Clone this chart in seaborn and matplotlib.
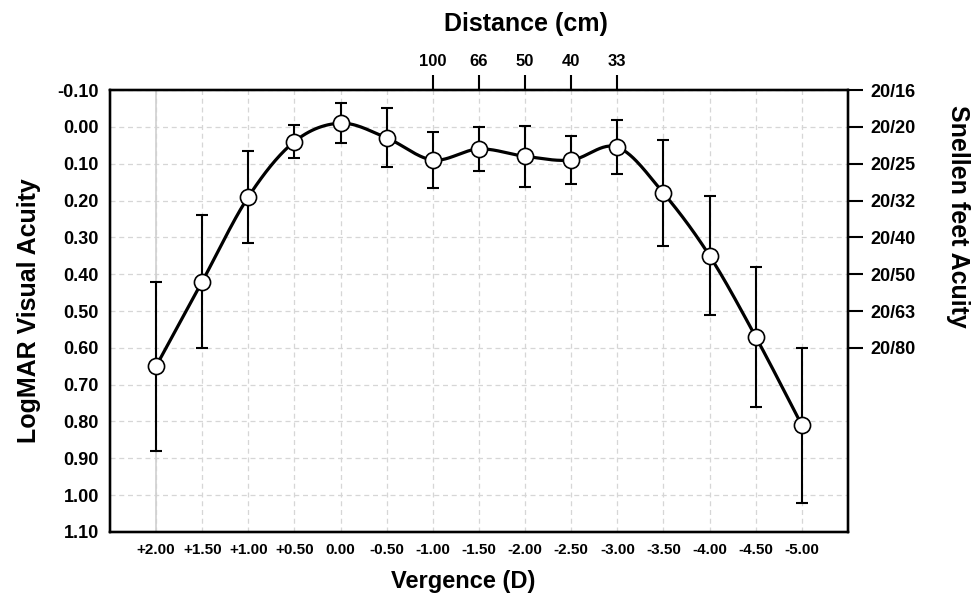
import numpy as np
import pandas as pd
import seaborn as sns
import matplotlib
matplotlib.use("Agg")
import matplotlib.pyplot as plt

# vergence (D) vs mean logMAR acuity with SD error bars
vergence = [2.0, 1.5, 1.0, 0.5, 0.0, -0.5, -1.0, -1.5, -2.0, -2.5, -3.0, -3.5, -4.0, -4.5, -5.0]
logmar = [0.65, 0.42, 0.19, 0.04, -0.01, 0.03, 0.09, 0.06, 0.08, 0.09, 0.055, 0.18, 0.35, 0.57, 0.81]
sd = [0.23, 0.18, 0.125, 0.045, 0.055, 0.08, 0.075, 0.06, 0.083, 0.064, 0.073, 0.143, 0.162, 0.19, 0.21]

# secondary axes
distance_vergence = [-1.0, -1.5, -2.0, -2.5, -3.0]
distance_cm = ["100", "66", "50", "40", "33"]
snellen_logmar = [-0.1, 0.0, 0.1, 0.2, 0.3, 0.4, 0.5, 0.6]
snellen_labels = ["20/16", "20/20", "20/25", "20/32", "20/40", "20/50", "20/63", "20/80"]
logmar_ticks = [-0.1, 0.0, 0.1, 0.2, 0.3, 0.4, 0.5, 0.6, 0.7, 0.8, 0.9, 1.0, 1.1]


def smooth(x, y, n=30):
    # catmull-rom curve through the points (like Excel's smoothed line)
    pts = np.column_stack([x, y]).astype(float)
    P = np.vstack([pts[0], pts, pts[-1]])
    t = np.linspace(0, 1, n)[:, None]
    segs = []
    for i in range(1, len(P) - 2):
        p0, p1, p2, p3 = P[i - 1], P[i], P[i + 1], P[i + 2]
        segs.append(0.5 * (2 * p1 + (-p0 + p2) * t
                           + (2 * p0 - 5 * p1 + 4 * p2 - p3) * t ** 2
                           + (-p0 + 3 * p1 - 3 * p2 + p3) * t ** 3))
    c = np.vstack(segs)
    return pd.DataFrame({"x": c[:, 0], "y": c[:, 1]})


sns.set_theme(style="white")
plt.rcParams["font.family"] = ["Liberation Sans", "DejaVu Sans"]
plt.rcParams["font.weight"] = "bold"
plt.rcParams["text.color"] = "black"
plt.rcParams["axes.labelcolor"] = "black"

fig = plt.figure(figsize=(9.74, 5.97), dpi=100)
ax = fig.add_axes([0.1129, 0.1089, 0.7577, 0.7403])

curve = smooth(vergence, logmar)
sns.lineplot(data=curve, x="x", y="y", sort=False, estimator=None,
             color="black", linewidth=2.3, ax=ax, zorder=3)
ax.errorbar(vergence, logmar, yerr=sd, fmt="none", ecolor="black",
            elinewidth=1.5, capsize=4, capthick=1.5, zorder=2)
sns.scatterplot(x=vergence, y=logmar, s=135, color="white", edgecolor="black",
                linewidth=1.2, ax=ax, zorder=4)

ax.set_xlim(2.5, -5.5)
ax.set_ylim(1.10, -0.10)
ax.set_xticks(vergence)
ax.set_xticklabels(["0.00" if v == 0 else f"{v:+.2f}" for v in vergence],
                   fontsize=11, fontweight="bold")
ax.set_yticks(logmar_ticks)
ax.set_yticklabels([f"{v:.2f}" for v in logmar_ticks], fontsize=13, fontweight="bold")
ax.tick_params(axis="both", length=0, pad=8, colors="black")
ax.grid(True, linestyle=(0, (4, 3)), color="#d6d6d6", linewidth=0.9)
ax.axvline(vergence[0], color="#d0d0d0", linewidth=1.2, zorder=1)
for s in ax.spines.values():
    s.set_color("black")
    s.set_linewidth(1.6)

ax.set_xlabel("Vergence (D)", fontsize=17, fontweight="bold", color="black")
ax.xaxis.set_label_coords(0.478, -0.085)
ax.set_ylabel("LogMAR Visual Acuity", fontsize=18, fontweight="bold", color="black")
ax.yaxis.set_label_coords(-0.094, 0.5)

# top axis: viewing distance
ax_top = ax.twiny()
ax_top.set_xlim(ax.get_xlim())
ax_top.set_xticks(distance_vergence)
ax_top.set_xticklabels(distance_cm, fontsize=12, fontweight="bold")
ax_top.tick_params(axis="x", length=11, width=1.5, pad=4, direction="out", colors="black")
ax_top.set_xlabel("Distance (cm)", fontsize=18, fontweight="bold", color="black")
ax_top.xaxis.set_label_coords(0.564, 1.134)

# right axis: snellen equivalent
ax_right = ax.twinx()
ax_right.set_ylim(ax.get_ylim())
ax_right.set_yticks(snellen_logmar)
ax_right.set_yticklabels(snellen_labels, fontsize=13, fontweight="bold")
ax_right.tick_params(axis="y", length=11, width=1.5, pad=5, direction="out", colors="black")
ax_right.set_ylabel("Snellen feet Acuity", fontsize=18, fontweight="bold", rotation=-90,
                    color="black")
ax_right.yaxis.set_label_coords(1.166, 0.715)
for a in (ax_top, ax_right):
    a.grid(False)
    for s in a.spines.values():
        s.set_color("black")
        s.set_linewidth(1.6)

fig.savefig("out.png", dpi=100)
